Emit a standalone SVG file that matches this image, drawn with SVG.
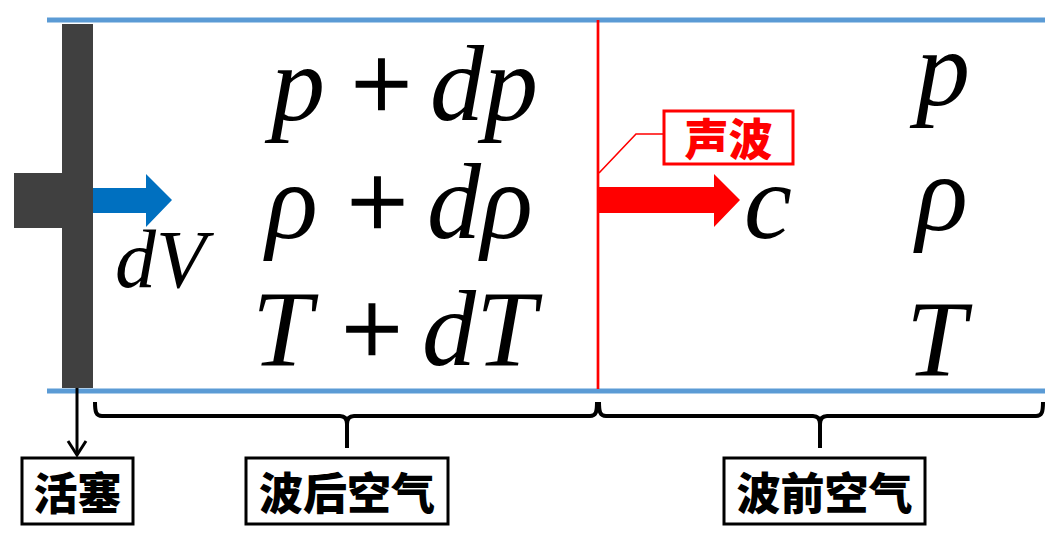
<svg xmlns="http://www.w3.org/2000/svg" width="1057" height="535" viewBox="0 0 1057 535">
<defs>
<style>
.wall{stroke:#5B9BD5;stroke-width:5;fill:none}
.math{font-family:"Liberation Serif","Times New Roman",serif;font-style:italic;font-size:108px;fill:#000}
.op{font-family:"Liberation Serif","Times New Roman",serif;font-size:108px;fill:#000;stroke:#000;stroke-width:1.5;text-anchor:middle}
.lbl{font-family:"Noto Sans CJK SC","Noto Sans",sans-serif;font-weight:900;font-size:44px;fill:#000;text-anchor:middle;dominant-baseline:central}
.box{fill:#fff;stroke:#000;stroke-width:3}
.brace{fill:none;stroke:#000;stroke-width:4;stroke-linejoin:round}
</style>
</defs>
<rect width="1057" height="535" fill="#fff"/>
<g id="tube">
<line class="wall" x1="47" y1="20" x2="1045" y2="20"/>
<line class="wall" x1="47" y1="391" x2="1045" y2="391"/>
</g>
<g id="piston">
<rect x="62" y="24" width="31" height="364" fill="#404040"/>
<rect x="14" y="173" width="49" height="55" fill="#404040"/>
</g>
<g id="wavefront">
<line x1="598" y1="20" x2="598" y2="389" stroke="#FF0000" stroke-width="2.7"/>
</g>
<g id="connectors">
<polygon id="dv-arrow" points="93,188 146,188 146,174 172,200 146,227 146,213 93,213" fill="#0070C0"/>
<polygon id="c-arrow" points="599,187 714,187 714,174 740,200 714,227 714,213 599,213" fill="#FF0000"/>
<polyline points="599,173 636,134 664,134" fill="none" stroke="#FF0000" stroke-width="1.6"/>
<line x1="77" y1="388" x2="77" y2="455" stroke="#000" stroke-width="3"/>
<polyline points="68,441 77,455 86,441" fill="none" stroke="#000" stroke-width="3"/>
<path class="brace" d="M95,402 C95,412 96,416 102,416 L340,416 C345,416 347,419 347,424 L347,448 M347,424 C347,419 349,416 354,416 L590,416 C596,416 597,412 597,402"/>
<path class="brace" d="M599,402 C599,412 600,416 606,416 L813,416 C818,416 820,419 820,424 L820,448 M820,424 C820,419 822,416 827,416 L1036,416 C1042,416 1043,412 1043,402"/>
</g>
<g id="after-state">
<text class="math" x="271" y="120">p</text><text class="op" x="381.5" y="120">+</text><text class="math" x="430" y="120">dp</text>
<text class="math" x="266" y="238">ρ</text><text class="op" x="377.5" y="238">+</text><text class="math" x="427" y="238">dρ</text>
<text class="math" x="252" y="365">T</text><text class="op" x="372" y="365">+</text><text class="math" x="422" y="365">dT</text>
</g>
<g id="before-state">
<text class="math" x="916" y="105">p</text>
<text class="math" x="916" y="230">ρ</text>
<text class="math" x="906" y="375">T</text>
</g>
<g id="dv-label"><text class="math" style="font-size:82px" x="115" y="287">dV</text></g>
<g id="c-label"><text class="math" x="744" y="238">c</text></g>
<g id="sound-wave">
<rect x="664" y="111" width="129" height="53" fill="#fff" stroke="#FF0000" stroke-width="3"/>
<text class="lbl" x="728.5" y="137" style="fill:#FF0000">声波</text>
</g>
<g id="piston-label">
<rect class="box" x="22" y="458" width="111" height="66"/>
<text class="lbl" x="77.5" y="491">活塞</text>
</g>
<g id="after-air">
<rect class="box" x="246" y="458" width="202" height="66"/>
<text class="lbl" x="347" y="491">波后空气</text>
</g>
<g id="before-air">
<rect class="box" x="724" y="458" width="201" height="66"/>
<text class="lbl" x="824.5" y="491">波前空气</text>
</g>
</svg>
